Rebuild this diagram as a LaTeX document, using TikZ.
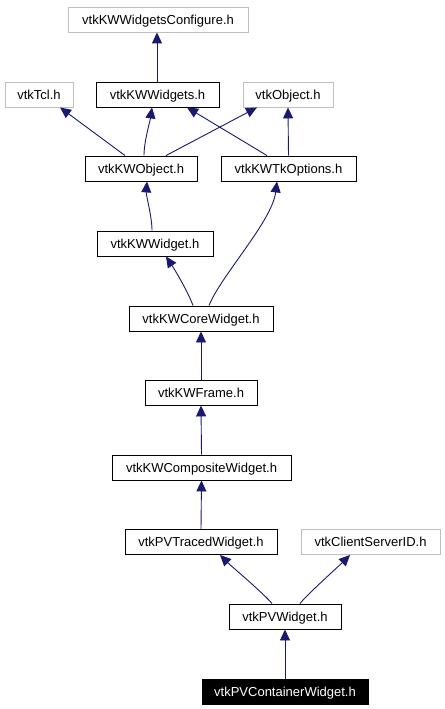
\documentclass[tikz,border=0pt]{standalone}
\usepackage{fontspec}
\setmainfont{Liberation Sans}
\usetikzlibrary{arrows.meta}
\definecolor{edgec}{HTML}{191970}
\definecolor{grayb}{HTML}{BFBFBF}
\begin{document}
\begin{tikzpicture}[x=1bp,y=-1bp,
 box/.style={draw=black, line width=0.9bp, minimum height=25bp, inner sep=0pt, text height=9.4bp, text depth=0pt, font=\fontsize{13bp}{15bp}\selectfont},
 ext/.style={box, draw=grayb},
 cur/.style={box, fill=black, text=white},
 edge/.style={draw=edgec, line width=0.9bp, -{Triangle[length=11bp,width=10bp]}}]
\useasboundingbox (0,0) rectangle (445,709);
\node[ext, minimum width=180bp] (conf) at (158,19.5) {vtkKWWidgetsConfigure.h};
\node[ext, minimum width=68bp] (tcl) at (39,94.5) {vtkTcl.h};
\node[box, minimum width=123bp] (kww) at (157.5,94.5) {vtkKWWidgets.h};
\node[ext, minimum width=90bp] (obj) at (288,94.5) {vtkObject.h};
\node[box, minimum width=112bp] (kwobject) at (141,168.5) {vtkKWObject.h};
\node[box, minimum width=135bp] (tkopt) at (288.5,168.5) {vtkKWTkOptions.h};
\node[box, minimum width=116bp] (kwwidget) at (155,243.5) {vtkKWWidget.h};
\node[box, minimum width=144bp] (core) at (201,318.5) {vtkKWCoreWidget.h};
\node[box, minimum width=112bp] (frame) at (201,392.5) {vtkKWFrame.h};
\node[box, minimum width=179bp] (comp) at (201.5,467.5) {vtkKWCompositeWidget.h};
\node[box, minimum width=152bp] (traced) at (201,542) {vtkPVTracedWidget.h};
\node[ext, minimum width=139bp] (csid) at (370.5,542) {vtkClientServerID.h};
\node[box, minimum width=112bp] (pvwidget) at (285,616.5) {vtkPVWidget.h};
\node[cur, minimum width=166bp] (container) at (285,691.5) {vtkPVContainerWidget.h};

\draw[edge] ([xshift=-0.5bp]kww.north) -- ([xshift=-1bp]conf.south);
\draw[edge] ([xshift=-16bp]kwobject.north) -- ([xshift=21bp]tcl.south);
\draw[edge] ([xshift=3bp]kwobject.north) .. controls +(0,-14) and +(-2,14) .. ([xshift=-5.5bp]kww.south);
\draw[edge] ([xshift=25bp]kwobject.north) -- ([xshift=-31bp]obj.south);
\draw[edge] ([xshift=-21.5bp]tkopt.north) -- ([xshift=29.5bp]kww.south);
\draw[edge] (tkopt.north) -- (obj.south);
\draw[edge] ([xshift=-3bp]kwwidget.north) .. controls +(0,-14) and +(-1,14) .. ([xshift=6bp]kwobject.south);
\draw[edge] ([xshift=-8bp]core.north) .. controls +(-5,-14) and +(8,12) .. ([xshift=11bp]kwwidget.south);
\draw[edge] ([xshift=8bp]core.north) .. controls +(12,-30) and +(-5,40) .. ([xshift=-11.5bp]tkopt.south);
\draw[edge] (frame.north) -- (core.south);
\draw[edge] (comp.north) -- (frame.south);
\draw[edge] (traced.north) -- (comp.south);
\draw[edge] ([xshift=-13bp]pvwidget.north) .. controls +(-6,-8) and +(10,10) .. ([xshift=19bp]traced.south);
\draw[edge] ([xshift=15bp]pvwidget.north) .. controls +(6,-8) and +(-10,10) .. ([xshift=-20.5bp]csid.south);
\draw[edge] (container.north) -- (pvwidget.south);
\end{tikzpicture}
\end{document}
